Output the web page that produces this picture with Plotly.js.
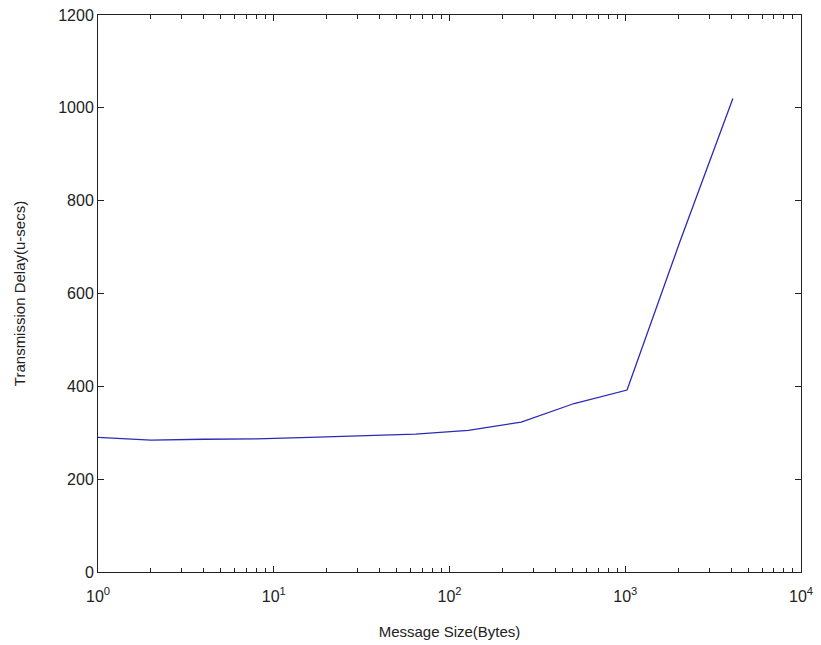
<!DOCTYPE html>
<html>
<head>
<meta charset="utf-8">
<script src="https://cdn.plot.ly/plotly-3.0.1.min.js"></script>
<style>
html,body{margin:0;padding:0;background:#fff;}
#chart{width:821px;height:645px;}
</style>
</head>
<body>
<div id="chart"></div>
<script>
// Message size (bytes) and transmission delay (u-secs)
const messageSize = [1, 2, 4, 8, 16, 32, 64, 128, 256, 512, 1024, 2048, 4096];
const delay = [290, 284, 286, 287, 290, 293, 297, 305, 323, 363, 392, 712, 1020];

const xTickVals = [1, 10, 100, 1000, 10000];
const xTickText = ['10<sup>0</sup>', '10<sup>1</sup>', '10<sup>2</sup>', '10<sup>3</sup>', '10<sup>4</sup>'];
const yTickVals = [0, 200, 400, 600, 800, 1000, 1200];

const fontFam = '"Liberation Sans", Arial, sans-serif';

const trace = {
  x: messageSize,
  y: delay,
  type: 'scatter',
  mode: 'lines',
  line: {color: '#2a2ab8', width: 1.3},
  hoverinfo: 'x+y'
};

const layout = {
  width: 821,
  height: 645,
  paper_bgcolor: '#ffffff',
  plot_bgcolor: '#ffffff',
  margin: {l: 98, r: 20, t: 15, b: 73},
  showlegend: false,
  font: {family: fontFam, size: 16, color: '#222'},
  xaxis: {
    type: 'log',
    range: [0, 4],
    tickmode: 'array',
    tickvals: xTickVals,
    ticktext: xTickText,
    ticks: 'inside',
    ticklen: 6,
    tickwidth: 1,
    tickcolor: '#222',
    minor: {dtick: 'D1', ticks: 'inside', ticklen: 4, tickwidth: 1, tickcolor: '#222', showgrid: false},
    showgrid: false,
    zeroline: false,
    showline: true,
    linecolor: '#222',
    linewidth: 1,
    mirror: 'ticks',
    tickfont: {family: fontFam, size: 16, color: '#222'},
    ticklabelstandoff: 10,
    title: {text: 'Message Size(Bytes)', font: {family: fontFam, size: 15, color: '#222'}, standoff: 22}
  },
  yaxis: {
    range: [0, 1200],
    tickmode: 'array',
    tickvals: yTickVals,
    ticks: 'inside',
    ticklen: 6,
    tickwidth: 1,
    tickcolor: '#222',
    showgrid: false,
    zeroline: false,
    showline: true,
    linecolor: '#222',
    linewidth: 1,
    mirror: 'ticks',
    tickfont: {family: fontFam, size: 16, color: '#222'},
    title: {text: 'Transmission Delay(u-secs)', font: {family: fontFam, size: 15, color: '#222'}, standoff: 28}
  }
};

Plotly.newPlot('chart', [trace], layout, {displayModeBar: false, staticPlot: true});
</script>
</body>
</html>
